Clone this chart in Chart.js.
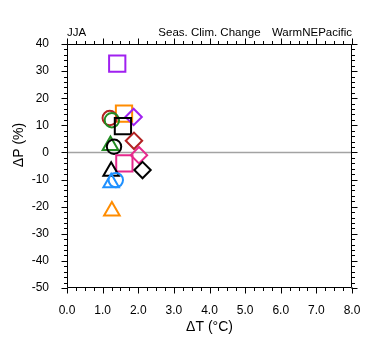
<!DOCTYPE html>
<html>
<head>
<meta charset="utf-8">
<script src="https://cdn.jsdelivr.net/npm/chart.js@4/dist/chart.umd.min.js"></script>
<style>
html,body{margin:0;padding:0;background:#fff;}
#c{display:block;}
</style>
</head>
<body>
<canvas id="c" width="380" height="355"></canvas>
<script>
// ---- data ----
const seriesNames = ['purpleSq','orangeSq','purpleDia','redCirc','greenCirc','blackSq','greenTri','blackCirc','redDia','pinkSq','pinkDia','blackDia','blackTri','blueCirc','blueTri','orangeTri'];
const deltaT = [1.41, 1.60, 1.87, 1.20, 1.26, 1.57, 1.22, 1.32, 1.88, 1.61, 2.02, 2.12, 1.24, 1.37, 1.24, 1.26];
const deltaP = [32.8, 14.3, 13.1, 12.7, 11.9, 9.7, 2.6, 2.1, 4.3, -4.0, -1.0, -6.5, -6.9, -10.2, -11.2, -21.6];
const markerShapes = ['rect','rect','rectRot','circle','circle','rect','triangle','circle','rectRot','rect','rectRot','rectRot','triangle','circle','triangle','triangle'];
const markerColors = ['#a020f0','#ff8c00','#a020f0','#b22222','#228b22','#000000','#228b22','#000000','#b22222','#e6288c','#e6288c','#000000','#000000','#1e90ff','#1e90ff','#ff8c00'];
const xTickValues = [0,1,2,3,4,5,6,7,8];
const yTickValues = [-50,-40,-30,-20,-10,0,10,20,30,40];
const titleLeft = 'JJA', titleCenter = 'Seas. Clim. Change', titleRight = 'WarmNEPacific';
const xTitle = '\u0394T (\u00B0C)', yTitle = '\u0394P (%)';

const FONT = '"Liberation Sans", Arial, Helvetica, sans-serif';
const radiusFor = s => s === 'rect' ? 11.5 : s === 'circle' ? 7.2 : s === 'triangle' ? 9 : 8.2;

const decor = {
  id: 'decor',
  beforeDatasetsDraw(chart) {
    const {ctx, chartArea: a, scales: {y}} = chart;
    const y0 = Math.round(y.getPixelForValue(0)) + 0.5;
    ctx.save();
    ctx.strokeStyle = '#a3a3a3';
    ctx.lineWidth = 1.6;
    ctx.beginPath(); ctx.moveTo(a.left, y0); ctx.lineTo(a.right, y0); ctx.stroke();
    ctx.restore();
  },
  afterDraw(chart) {
    const {ctx, chartArea: a, scales: {x, y}} = chart;
    ctx.save();
    ctx.strokeStyle = '#000';
    ctx.lineWidth = 1;
    const L = Math.round(a.left) + 0.5, R = Math.round(a.right) - 0.5;
    const T = Math.round(a.top) + 0.5, B = Math.round(a.bottom) - 0.5;
    ctx.beginPath();
    ctx.rect(L, T, R - L, B - T);
    // x ticks (outward, top & bottom)
    for (let i = 0; i <= 32; i++) {
      const v = i * 0.25;
      const px = Math.round(x.getPixelForValue(v)) + 0.5;
      const len = i % 4 === 0 ? 6 : 3.5;
      ctx.moveTo(px, B); ctx.lineTo(px, B + len);
      ctx.moveTo(px, T); ctx.lineTo(px, T - len);
    }
    // y ticks (outward, left & right)
    for (let v = -50; v <= 40; v += 2) {
      const py = Math.round(y.getPixelForValue(v)) + 0.5;
      const len = v % 10 === 0 ? 6 : 3.5;
      ctx.moveTo(L, py); ctx.lineTo(L - len, py);
      ctx.moveTo(R, py); ctx.lineTo(R + len, py);
    }
    ctx.stroke();

    // titles
    ctx.fillStyle = '#000';
    ctx.textBaseline = 'alphabetic';
    ctx.font = '11.5px ' + FONT;
    ctx.textAlign = 'left';  ctx.fillText(titleLeft, a.left, 36);
    ctx.textAlign = 'center'; ctx.fillText(titleCenter, (a.left + a.right) / 2, 36);
    ctx.textAlign = 'right'; ctx.fillText(titleRight, a.right, 36);

    // axis titles
    ctx.font = '14px ' + FONT;
    ctx.textAlign = 'center';
    ctx.textBaseline = 'middle';
    ctx.fillText(xTitle, (a.left + a.right) / 2, 327);
    ctx.save();
    ctx.translate(19, 145);
    ctx.rotate(-Math.PI / 2);
    ctx.fillText(yTitle, 0, 0);
    ctx.restore();
    ctx.restore();
  }
};

new Chart(document.getElementById('c'), {
  type: 'scatter',
  data: {
    datasets: [{
      label: 'models',
      data: deltaT.map((t, i) => ({x: t, y: deltaP[i]})),
      pointStyle: markerShapes,
      pointRadius: markerShapes.map(radiusFor),
      pointBorderColor: markerColors,
      pointBackgroundColor: 'rgba(0,0,0,0)',
      pointBorderWidth: 2,
      showLine: false
    }]
  },
  options: {
    responsive: false,
    animation: false,
    events: [],
    layout: {padding: {left: 0, right: 28, top: 44, bottom: 37}},
    plugins: {legend: {display: false}, tooltip: {enabled: false}},
    scales: {
      x: {
        type: 'linear', min: 0, max: 8,
        afterFit: s => { s.height = 30; },
        afterBuildTicks: s => { s.ticks = xTickValues.map(v => ({value: v})); },
        grid: {display: false}, border: {display: false},
        ticks: {color: '#000', font: {family: FONT, size: 12}, padding: 7,
                maxRotation: 0, autoSkip: false, callback: v => Number(v).toFixed(1)}
      },
      y: {
        type: 'linear', min: -50, max: 40,
        afterFit: s => { s.width = 67; },
        afterBuildTicks: s => { s.ticks = yTickValues.map(v => ({value: v})); },
        grid: {display: false}, border: {display: false},
        ticks: {color: '#000', font: {family: FONT, size: 12}, padding: 10,
                autoSkip: false, callback: v => String(v)}
      }
    }
  },
  plugins: [decor]
});
</script>
</body>
</html>
